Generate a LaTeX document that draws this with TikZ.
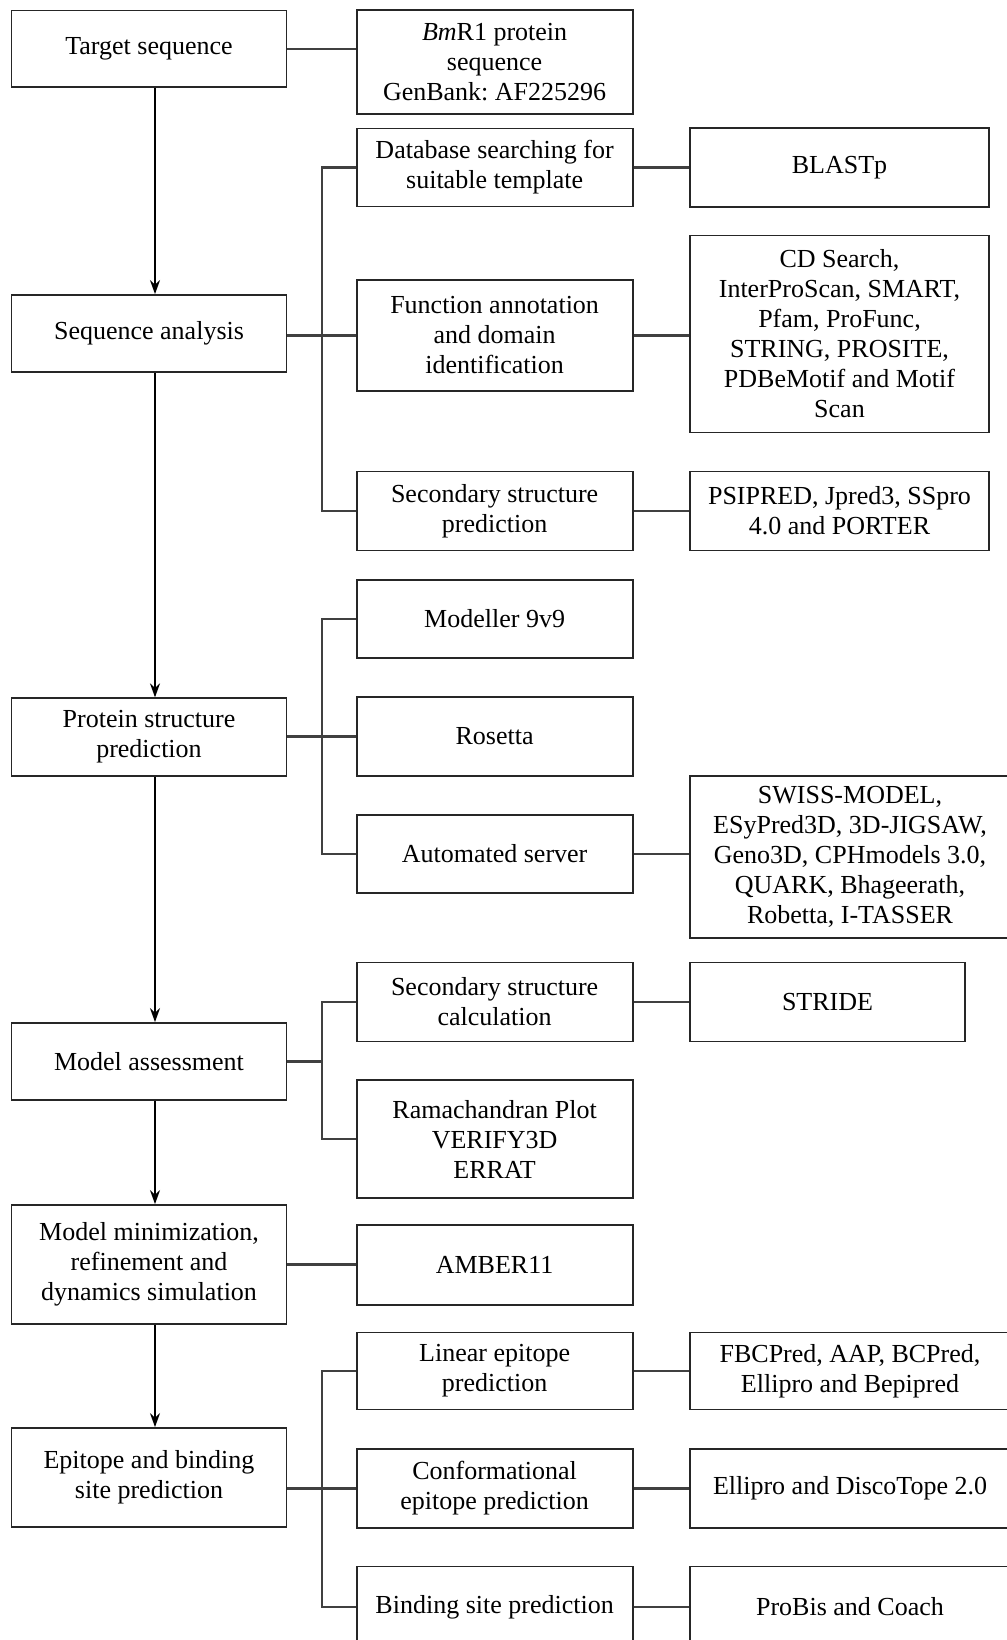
\documentclass[tikz,border=0pt]{standalone}
\usepackage{fontspec}
\setmainfont{Liberation Serif}
\usetikzlibrary{arrows.meta}
\frenchspacing
\newcommand{\diagfont}{\fontsize{26}{30}\selectfont}
\tikzset{
  box/.style={draw=black!85, line width=1.8pt, inner sep=0pt, align=center, font=\diagfont},
  colL/.style={box, minimum width=275pt},
  colM/.style={box, minimum width=276pt},
  colR/.style={box, minimum width=299pt},
  colW/.style={box, minimum width=320pt},
  link/.style={draw=black!75, line width=2.2pt},
  flow/.style={draw=black, line width=1.6pt, -{Stealth[length=14pt,width=10pt]}},
}
\begin{document}
\begin{tikzpicture}[x=1pt,y=-1pt]
\useasboundingbox (0,0) rectangle (1006,1640);
\fill[white] (0,0) rectangle (1006,1640);
\coordinate (trunk) at (155,0);
\coordinate (br) at (322,0);

% left column
\node[colL, minimum height=76.5pt] (T) at (149,48.75) {Target sequence};
\node[colL, minimum height=77pt] (SA) at (149,333.5) {Sequence analysis};
\node[colL, minimum height=77.5pt] (PSP) at (149,737) {Protein structure\\prediction};
\node[colL, minimum height=77pt] (MA) at (149,1061.5) {Model assessment};
\node[colL, minimum height=119pt] (MM) at (149,1264.5) {Model minimization,\\refinement and\\dynamics simulation};
\node[colL, minimum height=99pt] (EP) at (149,1477.5) {Epitope and binding\\site prediction};

% middle column
\node[colM, minimum height=103.5pt] (BM) at (494.6,62) {\textit{Bm}R1 protein\\sequence\\GenBank: AF225296};
\node[colM, minimum height=78pt] (DB) at (494.6,167.5) {Database searching for\\suitable template};
\node[colM, minimum height=111pt] (FA) at (494.6,335.5) {Function annotation\\and domain\\identification};
\node[colM, minimum height=79pt] (SSP) at (494.6,511) {Secondary structure\\prediction};
\node[colM, minimum height=78pt] (MOD) at (494.6,619) {Modeller 9v9};
\node[colM, minimum height=79pt] (ROS) at (494.6,736.5) {Rosetta};
\node[colM, minimum height=78pt] (AUTO) at (494.6,854) {Automated server};
\node[colM, minimum height=79pt] (SSC) at (494.6,1002) {Secondary structure\\calculation};
\node[colM, minimum height=118pt] (RAMA) at (494.6,1139) {Ramachandran Plot\\VERIFY3D\\ERRAT};
\node[colM, minimum height=80pt] (AMB) at (494.6,1265) {AMBER11};
\node[colM, minimum height=77pt] (LIN) at (494.6,1371) {Linear epitope\\prediction};
\node[colM, minimum height=79pt] (CONF) at (494.6,1488.5) {Conformational\\epitope prediction};
\node[colM, minimum height=81pt] (BIND) at (494.6,1607) {Binding site prediction};

% right column
\node[colR, minimum height=79pt] (BL) at (839.5,167.5) {BLASTp};
\node[colR, minimum height=197pt] (CD) at (839.5,334) {CD Search,\\InterProScan, SMART,\\Pfam, ProFunc,\\STRING, PROSITE,\\PDBeMotif and Motif\\Scan};
\node[colR, minimum height=79pt] (PS) at (839.5,511) {PSIPRED, Jpred3, SSpro\\4.0 and PORTER};
\node[colW, minimum height=162pt] (SW) at (850,857) {SWISS-MODEL,\\ESyPred3D, 3D-JIGSAW,\\Geno3D, CPHmodels 3.0,\\QUARK, Bhageerath,\\Robetta, I-TASSER};
\node[box, minimum width=275pt, minimum height=79pt] (STR) at (827.5,1002) {STRIDE};
\node[colW, minimum height=77pt] (FBC) at (850,1371) {FBCPred, AAP, BCPred,\\Ellipro and Bepipred};
\node[colW, minimum height=79pt] (ELL) at (850,1488.5) {Ellipro and DiscoTope 2.0};
\node[colW, minimum height=81pt] (PB) at (850,1607) {ProBis and Coach};

% main flow arrows
\draw[flow] (T.south -| trunk) -- (SA.north -| trunk);
\draw[flow] (SA.south -| trunk) -- (PSP.north -| trunk);
\draw[flow] (PSP.south -| trunk) -- (MA.north -| trunk);
\draw[flow] (MA.south -| trunk) -- (MM.north -| trunk);
\draw[flow] (MM.south -| trunk) -- (EP.north -| trunk);

% target
\draw[link] (T.east) -- (T.east -| BM.west);

% sequence analysis
\draw[link] (SA.east |- FA.west) -- (FA.west);
\draw[link] (DB.west) -- (DB.west -| br) -- (SSP.west -| br) -- (SSP.west);
\draw[link] (DB.east) -- (DB.east -| BL.west);
\draw[link] (FA.east) -- (FA.east -| CD.west);
\draw[link] (SSP.east) -- (SSP.east -| PS.west);

% protein structure prediction
\draw[link] (PSP.east |- ROS.west) -- (ROS.west);
\draw[link] (MOD.west) -- (MOD.west -| br) -- (AUTO.west -| br) -- (AUTO.west);
\draw[link] (AUTO.east) -- (AUTO.east -| SW.west);

% model assessment
\draw[link] (MA.east) -- (MA.east -| br);
\draw[link] (SSC.west) -- (SSC.west -| br) -- (RAMA.west -| br) -- (RAMA.west);
\draw[link] (SSC.east) -- (SSC.east -| STR.west);

% minimization
\draw[link] (MM.east) -- (MM.east -| AMB.west);

% epitope
\draw[link] (EP.east |- CONF.west) -- (CONF.west);
\draw[link] (LIN.west) -- (LIN.west -| br) -- (BIND.west -| br) -- (BIND.west);
\draw[link] (LIN.east) -- (LIN.east -| FBC.west);
\draw[link] (CONF.east) -- (CONF.east -| ELL.west);
\draw[link] (BIND.east) -- (BIND.east -| PB.west);
\end{tikzpicture}
\end{document}
